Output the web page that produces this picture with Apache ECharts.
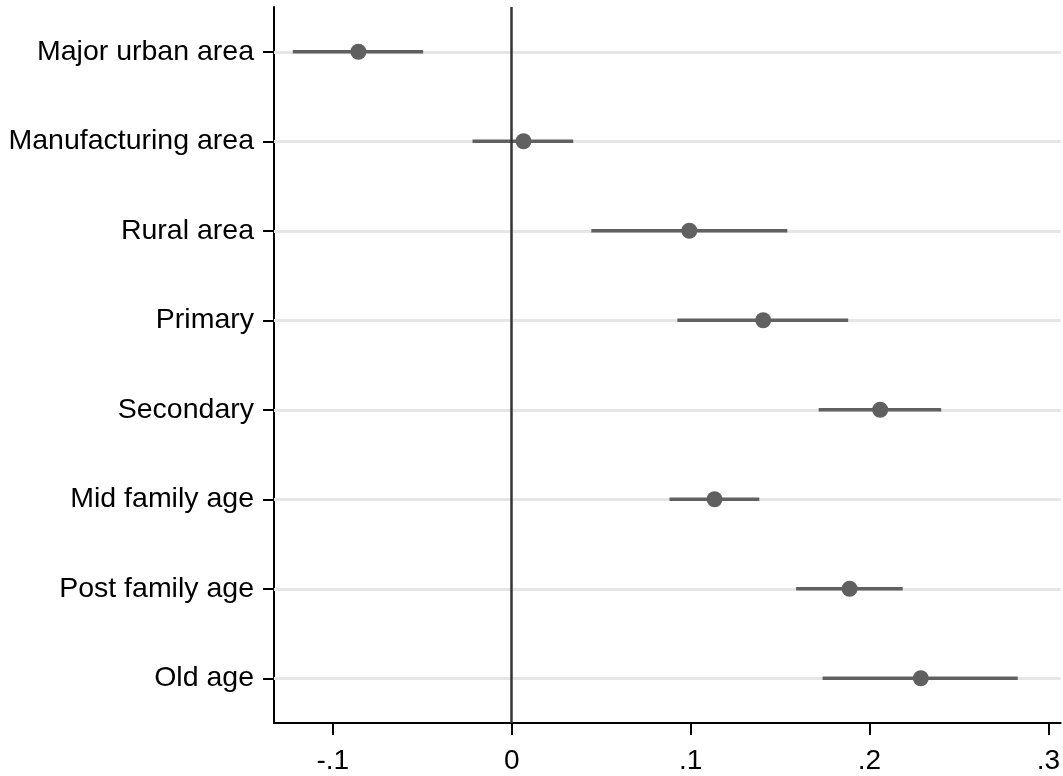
<!DOCTYPE html>
<html>
<head>
<meta charset="utf-8">
<script src="https://cdn.jsdelivr.net/npm/echarts@6/dist/echarts.min.js"></script>
<style>
html,body{margin:0;padding:0;background:#fff;}
#chart{width:1063px;height:776px;}
</style>
</head>
<body>
<div id="chart"></div>
<script>
const categories = ["Major urban area","Manufacturing area","Rural area","Primary","Secondary","Mid family age","Post family age","Old age"];
const estimates = [-0.0857, 0.0066, 0.0993, 0.1406, 0.2060, 0.1134, 0.1889, 0.2287];
const lower = [-0.1224, -0.0219, 0.0445, 0.0926, 0.1716, 0.0882, 0.1590, 0.1738];
const upper = [-0.0495, 0.0344, 0.1541, 0.1881, 0.2401, 0.1384, 0.2186, 0.2829];
const xTicks = [-0.1, 0, 0.1, 0.2, 0.3];

const FONT = "Liberation Sans, Arial, sans-serif";
const MARK = "#606060";

const chart = echarts.init(document.getElementById('chart'), null, {renderer:'canvas'});

const ptData = categories.map((c,i)=>[estimates[i], c]);

function fmt(v){
  if (Math.abs(v) < 1e-9) return "0";
  let s = (Math.round(v*10)/10).toString();
  return s.replace(/^(-?)0\./, "$1.");
}

const ciSeries = categories.map((c,i)=>({
  type:'line',
  data:[[lower[i], c],[upper[i], c]],
  showSymbol:false,
  symbol:'none',
  silent:true,
  lineStyle:{color:MARK, width:3.5, cap:'butt'},
  z:3
}));

chart.setOption({
  animation:false,
  backgroundColor:'#fff',
  grid:{left:274, top:7, right:0, bottom:53, containLabel:false},
  xAxis:{
    type:'value',
    min:-0.1329, max:0.3069,
    axisLine:{show:true, onZero:false, lineStyle:{color:'#000', width:2}},
    axisTick:{show:true, length:12, customValues:xTicks, lineStyle:{color:'#000', width:2}},
    axisLabel:{show:true, customValues:xTicks, formatter:fmt, margin:24, color:'#000', fontFamily:FONT, fontSize:28},
    splitLine:{show:false}
  },
  yAxis:{
    type:'category',
    data:categories,
    inverse:true,
    boundaryGap:true,
    axisLine:{show:true, onZero:false, lineStyle:{color:'#000', width:2}},
    axisTick:{show:true, alignWithLabel:true, length:11, lineStyle:{color:'#000', width:2}},
    axisLabel:{show:true, margin:20, color:'#000', fontFamily:FONT, fontSize:28.5},
    splitLine:{show:false}
  },
  series:[
    {
      type:'line',
      data:[],
      silent:true,
      z:1,
      markLine:{
        z:1,
        silent:true, symbol:['none','none'], label:{show:false},
        lineStyle:{color:'#e6e6e6', width:3, type:'solid'},
        data: categories.map(c=>({yAxis:c}))
      }
    },
    ...ciSeries,
    {
      type:'line',
      data:[],
      silent:true,
      z:4,
      markLine:{
        z:4,
        silent:true, symbol:['none','none'], label:{show:false},
        lineStyle:{color:'#333', width:2.5, type:'solid'},
        data:[{xAxis:0}]
      }
    },
    {
      type:'scatter',
      data:ptData,
      symbol:'circle',
      symbolSize:16,
      itemStyle:{color:MARK, opacity:1},
      z:6
    }
  ]
});
</script>
</body>
</html>
